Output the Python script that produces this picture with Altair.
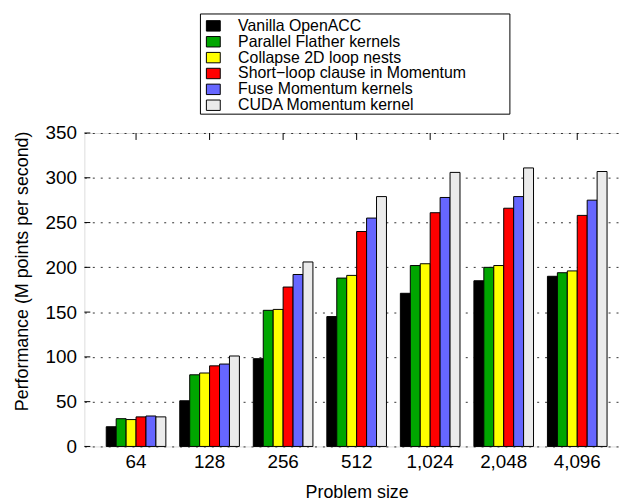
import altair as alt
import pandas as pd

sizes = ["64", "128", "256", "512", "1,024", "2,048", "4,096"]
series = [
    "Vanilla OpenACC",
    "Parallel Flather kernels",
    "Collapse 2D loop nests",
    "Short\u2212loop clause in Momentum",
    "Fuse Momentum kernels",
    "CUDA Momentum kernel",
]
colors = ["#000000", "#00a600", "#ffff00", "#ff0000", "#6666ff", "#ebebeb"]

vanilla = [22, 51, 98, 145, 171, 185, 190]
flather = [31, 80, 152, 188, 202, 200, 194]
collapse = [30, 82, 153, 191, 204, 202, 196]
shortloop = [33, 90, 178, 240, 261, 266, 258]
fuse = [34, 92, 192, 255, 278, 279, 275]
cuda = [33, 101, 206, 279, 306, 311, 307]
y_ticks = [0, 50, 100, 150, 200, 250, 300, 350]

all_vals = [vanilla, flather, collapse, shortloop, fuse, cuda]
rows = []
for s, vals in zip(series, all_vals):
    for sz, v in zip(sizes, vals):
        rows.append({"size": sz, "series": s, "value": v})
df = pd.DataFrame(rows)

FONT = "Liberation Sans"
XTITLE = "Problem size"
YTITLE = "Performance (M points per second)"

xscale = alt.Scale(paddingInner=0.1892, paddingOuter=0.2973)
yscale = alt.Scale(domain=[0, 350], nice=False)

xaxis = alt.Axis(
    title=XTITLE, labelAngle=0, ticks=False, domain=False,
    labelFontSize=19, titleFontSize=18, labelPadding=6, titlePadding=12,
    labelColor="black", titleColor="black", titleFontWeight="normal",
    labelFont=FONT, titleFont=FONT,
)
yaxis = alt.Axis(
    title=YTITLE, values=y_ticks, grid=True, gridDash=[2, 6], gridColor="#333333",
    gridOpacity=1, gridWidth=1, ticks=False, domain=False,
    labelFontSize=19, titleFontSize=18, labelPadding=8, titlePadding=14,
    titleY=139,
    labelColor="black", titleColor="black", titleFontWeight="normal",
    labelFont=FONT, titleFont=FONT,
)

bars = alt.Chart(df).mark_bar(stroke="black", strokeWidth=1).encode(
    x=alt.X("size:N", sort=sizes, scale=xscale, axis=xaxis),
    xOffset=alt.XOffset("series:N", sort=series,
                        scale=alt.Scale(paddingInner=0, paddingOuter=0)),
    y=alt.Y("value:Q", scale=yscale, axis=yaxis),
    color=alt.Color(
        "series:N", sort=series,
        scale=alt.Scale(domain=series, range=colors),
        legend=alt.Legend(
            title=None, orient="none", legendX=122, legendY=-116,
            direction="vertical",
            symbolType="M-1,-0.75L1,-0.75L1,0.75L-1,0.75Z", symbolSize=196,
            symbolStrokeColor="black", symbolStrokeWidth=1, symbolOpacity=1,
            labelFontSize=16, labelFont=FONT, labelColor="black", labelLimit=0,
            labelOffset=17, rowPadding=0, padding=0,
        ),
    ),
)

top_ticks = alt.Chart(pd.DataFrame({"size": sizes})).mark_rule(
    color="black", strokeWidth=1
).encode(
    x=alt.X("size:N", sort=sizes, title=XTITLE),
    y=alt.value(0), y2=alt.value(7),
)

left_ticks = alt.Chart(pd.DataFrame({"value": y_ticks})).mark_rule(
    color="black", strokeWidth=1
).encode(
    y=alt.Y("value:Q", title=YTITLE),
    x=alt.value(0), x2=alt.value(6),
)

legend_box = alt.Chart(alt.Data(values=[{"k": 1}])).mark_rect(
    fill="white", fillOpacity=0, stroke="black", strokeWidth=1
).encode(
    x=alt.value(117), x2=alt.value(429), y=alt.value(-120), y2=alt.value(-19),
)

chart = alt.layer(bars, top_ticks, left_ticks, legend_box).properties(
    width=549, height=316,
    padding={"left": 5, "top": 3, "right": -10, "bottom": 0},
).configure_view(stroke="#222222", strokeWidth=1).configure(font=FONT)

chart.save("out.html", embed_options={"renderer": "svg", "actions": False})
